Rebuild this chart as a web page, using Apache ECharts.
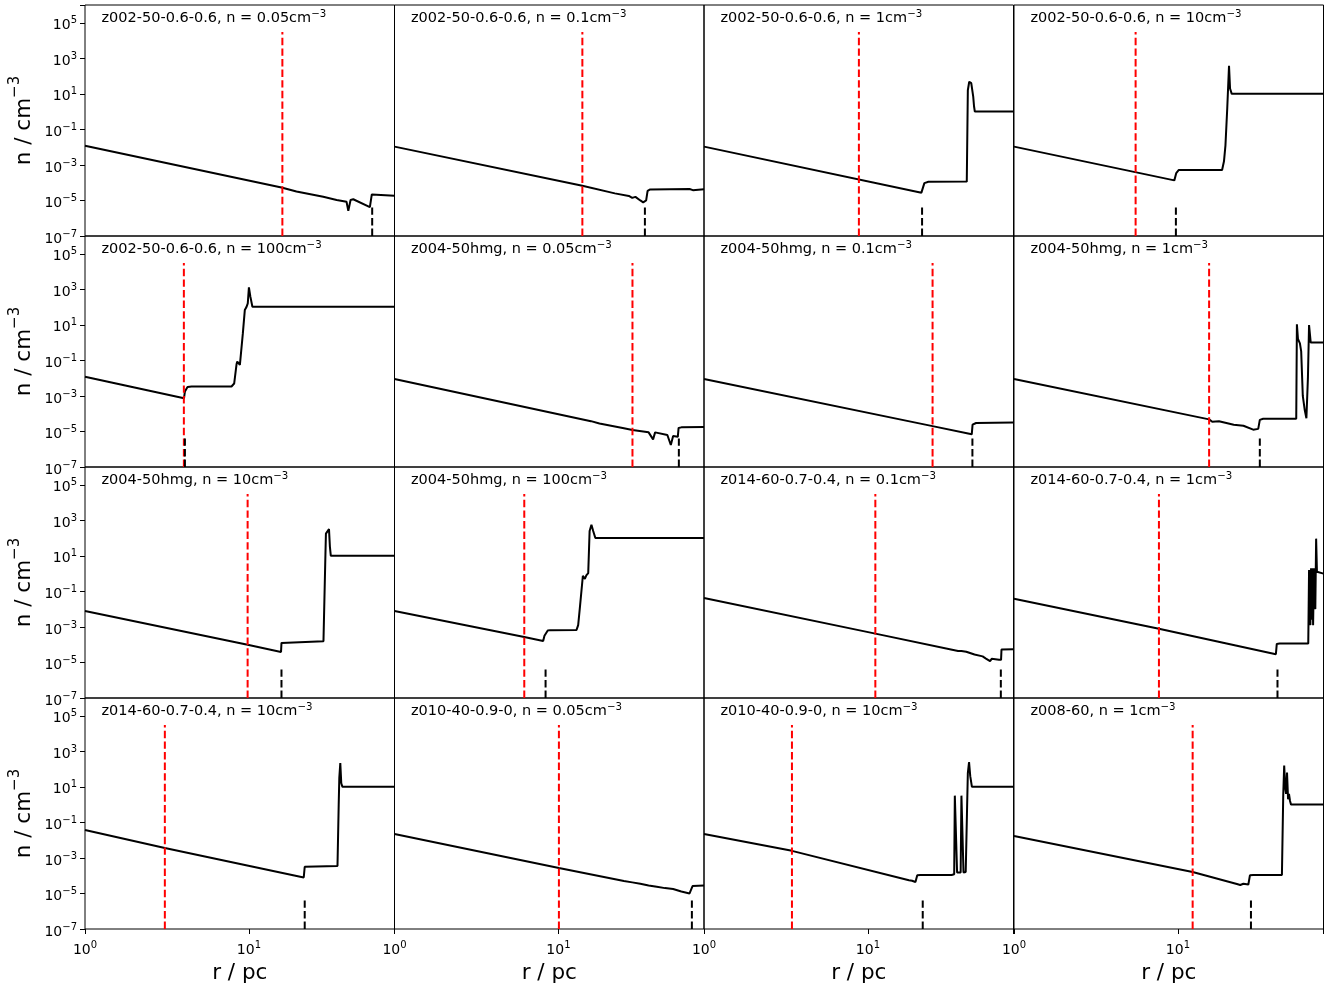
<!DOCTYPE html>
<html><head><meta charset="utf-8">
<script src="https://cdn.jsdelivr.net/npm/echarts@6/dist/echarts.min.js"></script>
<style>html,body{margin:0;padding:0;background:#fff}#c{width:1328px;height:985px}</style>
</head><body><div id="c"></div>
<script>
// ---------------- data ----------------
const panelModels = ['z002-50-0.6-0.6','z002-50-0.6-0.6','z002-50-0.6-0.6','z002-50-0.6-0.6',
  'z002-50-0.6-0.6','z004-50hmg','z004-50hmg','z004-50hmg',
  'z004-50hmg','z004-50hmg','z014-60-0.7-0.4','z014-60-0.7-0.4',
  'z014-60-0.7-0.4','z010-40-0.9-0','z010-40-0.9-0','z008-60'];
const panelDensities = ['0.05','0.1','1','10','100','0.05','0.1','1','10','100','0.1','1','10','0.05','10','1'];
const redLineR = [16.0, 14.0, 8.81, 5.52, 4.01, 28.3, 24.8, 15.5, 9.82, 6.19, 11.1, 7.66, 3.07, 10.07, 3.44, 12.3];
const shockR   = [56.5, 33.7, 21.4, 9.72, 4.07, 54.3, 43.4, 31.6, 15.8, 8.35, 64.7, 40.5, 21.9, 65.2, 21.6, 27.9];
const xRange = [1, 77.3];
const yRange = [1e-7, 1e6];
const redTop = 3e4;
const shockTop = 5.6e-6;

const curve01 = [[1,0.012],[15.8,5.4e-5],[19.5,3.2e-5],[20,3.4e-5],[28.4,1.6e-5],[34.3,1.07e-5],[39.4,8.5e-6],[40.4,2.6e-6],[41.7,1.07e-5],[43.3,1.17e-5],[54.7,4.2e-6],[55.6,3.9e-6],[56.2,2.2e-5],[57.5,1.8e-5],[77.3,1.85e-5]];
const curve02 = [[1,0.0107],[14.0,6.8e-5],[22.1,2.5e-5],[26.9,1.8e-5],[28.2,1.4e-5],[29.5,1.6e-5],[31.6,1.0e-5],[32.9,7.9e-6],[34.3,1.0e-5],[35.0,3.5e-5],[36.3,4.2e-5],[63.1,4.4e-5],[66.1,3.8e-5],[67.6,4.3e-5],[77.3,4.3e-5]];
const curve03 = [[1,0.0107],[21.2,2.75e-5],[21.6,3.5e-5],[22.1,9.5e-5],[23.4,1.12e-4],[40.1,1.15e-4],[40.7,16],[41.5,48],[42.7,40],[43.9,7],[44.4,2],[44.9,1],[77.3,1]];
const curve04 = [[1,0.0107],[9.51,1.35e-4],[9.77,3.5e-4],[10.1,5.1e-4],[18.6,5.2e-4],[19.1,1.6e-3],[19.5,0.0126],[20.0,1.6],[20.5,380],[20.8,20],[21.3,10],[77.3,10]];
const curve05 = [[1,0.012],[4.02,7.4e-4],[4.07,1.8e-3],[4.22,3.2e-3],[4.47,3.4e-3],[7.83,3.4e-3],[8.13,5e-3],[8.41,0.063],[8.49,0.085],[8.81,0.056],[8.95,0.044],[9.18,3.2],[9.44,68],[9.66,100],[9.84,160],[10.0,1290],[10.2,400],[10.5,105],[77.3,105]];
const curve06 = [[1,8.9e-3],[15.8,3.8e-5],[17.8,2.8e-5],[25.1,1.5e-5],[28.3,1.2e-5],[28.8,1.3e-5],[35.5,8.9e-6],[37.8,3.6e-6],[38.9,8.9e-6],[46.2,6.3e-6],[48.5,1.74e-6],[50.1,5.6e-6],[53.5,5e-6],[54.1,1.58e-5],[56.2,1.7e-5],[77.3,1.78e-5]];
const curve07 = [[1,8.9e-3],[24.8,2.0e-5],[43.0,6.9e-6],[43.5,2.4e-5],[45.7,3.0e-5],[77.3,3.2e-5]];
const curve08 = [[1,8.9e-3],[15.5,4.8e-5],[16.2,3.5e-5],[17.8,3.8e-5],[21.9,2.4e-5],[25.1,2.1e-5],[28.8,1.26e-5],[30.9,1.4e-5],[31.6,4.5e-5],[33.1,5.2e-5],[52.7,5.2e-5],[53.2,10.7],[54.0,1.6],[55.5,0.9],[56.5,0.32],[57.8,1e-3],[59.4,1.6e-4],[60.8,5.5e-5],[62.1,0.01],[63.1,9.8],[64.6,1],[77.3,1]];
const curve09 = [[1,7.9e-3],[9.82,1e-4],[15.7,3.9e-5],[15.8,1.26e-4],[16.2,1.5e-4],[28.5,1.55e-4],[29.2,3.2],[29.5,178],[30.2,200],[30.8,320],[31.2,32],[31.6,10],[77.3,10]];
const curve10 = [[1,7.9e-3],[6.19,2.7e-4],[8.07,1.6e-4],[8.22,3.2e-4],[8.61,6.3e-4],[8.91,6.6e-4],[12.9,6.8e-4],[13.2,1.26e-3],[13.5,0.0107],[14.1,0.76],[14.5,0.5],[14.8,0.8],[15.2,1.07],[15.5,250],[15.9,560],[16.3,250],[16.8,100],[77.3,100]];
const curve11 = [[1,0.043],[11.1,4.2e-4],[35.5,4.4e-5],[36.3,3.8e-5],[37.2,4.4e-5],[38.0,3.5e-5],[39.8,4e-5],[44.7,2.8e-5],[50.1,2.2e-5],[52.5,1.66e-5],[55.6,1.2e-5],[56.9,1.6e-5],[63.1,1.4e-5],[64.9,1.4e-5],[65.3,5.4e-5],[77.3,5.6e-5]];
const curve12 = [[1,0.039],[7.66,7.9e-4],[39.6,2.9e-5],[40.1,1.1e-4],[41.7,1.17e-4],[62.4,1.17e-4],[63.1,1.6],[63.8,2],[64.3,1.26e-3],[64.9,2],[65.3,2.5e-3],[66.1,2],[66.8,1.26e-3],[67.6,2],[68.9,0.01],[69.7,93],[70.5,1.26],[71.6,1],[77.3,1]];
const curve13 = [[1,0.037],[3.07,3.6e-3],[21.6,7.9e-5],[21.9,3.2e-4],[22.4,3.5e-4],[34.7,3.5e-4],[35.3,1],[35.6,32],[36.1,220],[36.6,16],[37.2,10],[77.3,10]];
const curve14 = [[1,0.022],[10.07,2.7e-4],[25.1,5e-5],[28.2,4.2e-5],[31.6,3.5e-5],[35.5,2.8e-5],[39.8,2.4e-5],[44.7,2e-5],[50.1,1.8e-5],[56.2,1.3e-5],[63.1,1e-5],[64.6,8.9e-6],[65.8,2.6e-5],[67.6,2.8e-5],[77.3,2.8e-5]];
const curve15 = [[1,0.022],[3.44,2.5e-3],[17.8,5.6e-5],[18.2,5e-5],[18.6,5.2e-5],[19.5,4.4e-5],[20.0,1.05e-4],[20.9,1.1e-4],[32.4,1.1e-4],[33.6,1.2e-4],[33.9,3.2],[34.6,3.0],[35.0,1.5e-4],[36.8,1.5e-4],[37.2,3.2],[37.9,3.0],[38.3,1.5e-4],[39.5,1.6e-4],[40.2,0.3],[40.7,60],[41.4,250],[42.1,40],[43.1,10],[77.3,10]];
const curve16 = [[1,0.017],[12.3,1.6e-4],[22.9,3.4e-5],[24.0,3e-5],[25.1,3.5e-5],[26.9,3.2e-5],[27.5,1.05e-4],[28.8,1.1e-4],[43.1,1.1e-4],[43.9,3.2],[44.5,160],[45.1,10],[45.7,4],[46.3,63],[47.0,2],[47.6,4],[48.3,1.6],[49.0,1],[77.3,1]];
const curves = [curve01,curve02,curve03,curve04,curve05,curve06,curve07,curve08,curve09,curve10,curve11,curve12,curve13,curve14,curve15,curve16];

// ---------------- layout ----------------
const F = 'DejaVu Sans';
const colLeft = [85, 394.5, 704, 1014];
const rowTop = [5, 236, 467, 698];
const W = 309.5, H = 231;

function powLabel(v, keepOdd){
  const e = Math.log10(v);
  const k = Math.round(e);
  if (Math.abs(e - k) > 1e-6) return '';
  if (keepOdd && Math.abs(k % 2) !== 1) return '';
  return '{b|10}{s|' + (k < 0 ? '\u2212' + (-k) : k) + '}';
}
const tickRich = {
  b: {fontSize: 14, fontFamily: F, color: '#000', verticalAlign: 'bottom', lineHeight: 20},
  s: {fontSize: 10, fontFamily: F, color: '#000', verticalAlign: 'bottom', padding: [0, 0, 7, 0], lineHeight: 20}
};

const grids = [], xAxes = [], yAxes = [], series = [], titles = [];
for (let i = 0; i < 16; i++) {
  const r = Math.floor(i / 4), c = i % 4;
  const isBottom = r === 3, isLeft = c === 0;
  grids.push({left: colLeft[c], top: rowTop[r], width: W, height: H, show: true,
    borderColor: '#000', borderWidth: 1, backgroundColor: 'transparent', containLabel: false});
  xAxes.push({type: 'log', logBase: 10, gridIndex: i, min: xRange[0], max: xRange[1], interval: 1,
    axisLine: {show: false}, splitLine: {show: false},
    axisTick: {show: isBottom, length: 5, lineStyle: {color: '#000', width: 1}},
    minorTick: {show: false},
    axisLabel: {show: isBottom, margin: 8, formatter: v => powLabel(v, false), rich: tickRich},
    name: isBottom ? 'r / pc' : '', nameLocation: 'middle', nameGap: 33,
    nameTextStyle: {fontSize: 21.5, fontFamily: F, color: '#000'}});
  yAxes.push({type: 'log', logBase: 10, gridIndex: i, min: yRange[0], max: yRange[1], interval: 2,
    axisLine: {show: false}, splitLine: {show: false},
    axisTick: {show: isLeft, length: 5, lineStyle: {color: '#000', width: 1}},
    minorTick: {show: false},
    axisLabel: {show: isLeft, margin: 8, formatter: v => powLabel(v, true), rich: tickRich},
    name: isLeft ? '{b|n / cm}{s|\u22123}' : '', nameLocation: 'middle', nameGap: 50,
    nameTextStyle: {fontFamily: F, color: '#000', rich: {
      b: {fontSize: 21.5, fontFamily: F, color: '#000', verticalAlign: 'bottom', lineHeight: 30},
      s: {fontSize: 15, fontFamily: F, color: '#000', verticalAlign: 'bottom', padding: [0, 0, 12, 0], lineHeight: 30}}}});
  titles.push({text: '{t|' + panelModels[i] + ', n = ' + panelDensities[i] + 'cm}{ts|\u22123}',
    left: colLeft[c] + 16.5, top: rowTop[r] + 1, padding: 0,
    textStyle: {fontSize: 14.5, fontWeight: 'normal', fontFamily: F, color: '#000', rich: {
      t: {fontSize: 14.5, fontFamily: F, color: '#000', verticalAlign: 'bottom', lineHeight: 20},
      ts: {fontSize: 10.2, fontFamily: F, color: '#000', verticalAlign: 'bottom', padding: [0, 0, 7, 0], lineHeight: 20}}}});
  series.push({type: 'line', xAxisIndex: i, yAxisIndex: i, data: curves[i], showSymbol: false, symbol: 'none',
    lineStyle: {color: '#000', width: 2}, silent: true, animation: false, z: 2});
  series.push({type: 'line', xAxisIndex: i, yAxisIndex: i, data: [[redLineR[i], yRange[0]], [redLineR[i], redTop]],
    showSymbol: false, symbol: 'none', lineStyle: {color: '#ff0000', width: 2, type: [7.4, 3.2]}, silent: true, animation: false, z: 3});
  series.push({type: 'line', xAxisIndex: i, yAxisIndex: i, data: [[shockR[i], yRange[0]], [shockR[i], shockTop]],
    showSymbol: false, symbol: 'none', lineStyle: {color: '#000', width: 2, type: [7.4, 3.2]}, silent: true, animation: false, z: 3});
}

const chart = echarts.init(document.getElementById('c'), null, {renderer: 'canvas'});
chart.setOption({backgroundColor: '#fff', animation: false, title: titles, grid: grids, xAxis: xAxes, yAxis: yAxes, series: series});
</script>
</body></html>
